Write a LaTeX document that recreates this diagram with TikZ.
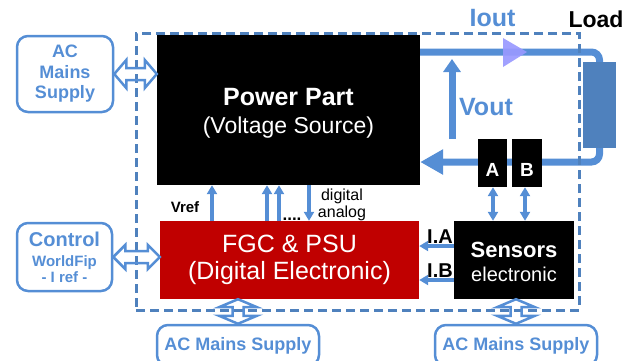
\documentclass[tikz,border=0pt]{standalone}
\usepackage{fontspec}
\setmainfont{Liberation Sans}
\usetikzlibrary{arrows.meta,calc}
\definecolor{lblue}{RGB}{85,142,213}
\definecolor{dblue}{RGB}{79,129,189}
\definecolor{fgcred}{RGB}{192,0,0}
\definecolor{lav}{RGB}{153,153,255}
\begin{document}
\begin{tikzpicture}[x=1pt,y=-1pt,
  blk/.style={draw=none, fill=black, text=white, inner sep=0pt, align=center},
  rbox/.style={draw=lblue, line width=2.5pt, rounded corners=11pt, text=lblue, inner sep=0pt, align=center},
  loopline/.style={draw=lblue, line width=7pt},
  thinarr/.style={draw=lblue, line width=3.5pt, -{Triangle[length=9pt,width=10pt]}},
  thindbl/.style={draw=lblue, line width=3.5pt, {Triangle[length=9pt,width=10pt]}-{Triangle[length=9pt,width=10pt]}},
  dbl/.style={draw=lblue, line width=2.5pt, line join=miter},
  lbl/.style={anchor=base, inner sep=0pt},
]
\useasboundingbox (0,0) rectangle (638,360);

% main blocks
\node[blk, minimum width=263pt, minimum height=150pt, font=\fontsize{23}{28}\selectfont] (pp) at (288.5,110)
  {\raisebox{-3pt}[\height][\depth]{\fontsize{25}{28}\selectfont\bfseries Power Part}\\\raisebox{-3pt}[\height][\depth]{(Voltage Source)}};
\node[blk, fill=fgcred, minimum width=259pt, minimum height=78pt, font=\fontsize{25}{27}\selectfont] (fgc) at (289.5,260)
  {FGC \& PSU\\(Digital Electronic)};
\node[blk, minimum width=120pt, minimum height=78pt, font=\fontsize{20}{24}\selectfont] (sen) at (514,260)
  {\raisebox{-2pt}[\height][\depth]{\fontsize{22}{24}\selectfont\bfseries Sensors}\\\raisebox{-2pt}[\height][\depth]{electronic}};
\node[draw=none, fill=dblue, minimum width=33pt, minimum height=86pt, inner sep=0pt] (load) at (599.5,105) {};

% outside boxes
\node[rbox, minimum width=96pt, minimum height=76pt, font=\fontsize{18}{20.5}\selectfont\bfseries] (ac1) at (65,74)
  {AC\\Mains\\Supply};
\node[rbox, minimum width=95pt, minimum height=68pt, font=\fontsize{15}{18}\selectfont\bfseries] (ctrl) at (64.5,257)
  {{\fontsize{20}{18}\selectfont Control}\\[2pt]WorldFip\\[-2pt]- I ref -};
\node[rbox, minimum width=162pt, minimum height=41pt, font=\fontsize{18}{20}\selectfont\bfseries] (ac2) at (238,345.5)
  {AC Mains Supply};
\node[rbox, minimum width=162pt, minimum height=41pt, font=\fontsize{18}{20}\selectfont\bfseries] (ac3) at (516,345.5)
  {AC Mains Supply};

% current loop
\coordinate (ltop) at (599.5,52);
\coordinate (lbot) at (599.5,162);
\draw[loopline, rounded corners=8pt] (pp.east |- ltop) -- (ltop) -- (load.north);
\draw[loopline, rounded corners=8pt, -{Triangle[length=23pt,width=24pt]}] (load.south) -- (lbot) -- (pp.east |- lbot);
\fill[lav, opacity=0.92] (503,38) -- (527,52) -- (503,67) -- cycle;
\coordinate (vbase) at (452,139);
\coordinate (vtip) at (452,59);
\draw[loopline, -{Triangle[length=13pt,width=17pt]}] (vbase) -- (vtip);

% sensor heads
\node[blk, minimum width=29pt, minimum height=48pt, font=\fontsize{19}{22}\selectfont\bfseries] (ba) at (492.5,163)
  {\raisebox{-7pt}[\height][0pt]{A}};
\node[blk, minimum width=30pt, minimum height=48pt, font=\fontsize{19}{22}\selectfont\bfseries] (bb) at (527,163)
  {\raisebox{-7pt}[\height][0pt]{B}};

% frame
\node[draw=dblue, line width=3pt, dash pattern=on 9pt off 5pt, minimum width=443pt, minimum height=277pt, inner sep=0pt] (frame) at (357.5,171.5) {};

% thin arrows
\coordinate (xa) at (212,0);
\coordinate (xb) at (267,0);
\coordinate (xc) at (279,0);
\coordinate (xd) at (309,0);
\coordinate (xe) at (493,0);
\coordinate (xf) at (525,0);
\coordinate (ya) at (0,246);
\coordinate (yb) at (0,280);
\draw[thinarr] (fgc.north -| xa) -- (pp.south -| xa);
\draw[thinarr] (fgc.north -| xb) -- (pp.south -| xb);
\draw[thinarr] (fgc.north -| xc) -- (pp.south -| xc);
\draw[thinarr] (pp.south -| xd) -- (fgc.north -| xd);
\draw[thindbl] (ba.south -| xe) -- (sen.north -| xe);
\draw[thindbl] (bb.south -| xf) -- (sen.north -| xf);
\draw[thinarr] (sen.west |- ya) -- (fgc.east |- ya);
\draw[thinarr] (sen.west |- yb) -- (fgc.east |- yb);

% hollow double arrows
\draw[dbl] (ac1.east) -- ++(12,-14) -- ++(0,8) -- ($(pp.west |- ac1.east)+(-12,-6)$) -- ++(0,-8)
  -- (pp.west |- ac1.east) -- ++(-12,14) -- ++(0,-8) -- ($(ac1.east)+(12,6)$) -- ++(0,8) -- cycle;
\draw[dbl] (ctrl.east) -- ++(12,-12) -- ++(0,6) -- ($(fgc.west |- ctrl.east)+(-12,-6)$) -- ++(0,-6)
  -- (fgc.west |- ctrl.east) -- ++(-12,12) -- ++(0,-6) -- ($(ctrl.east)+(12,6)$) -- ++(0,6) -- cycle;
\draw[dbl] (fgc.south -| ac2.north) -- ++(19,8) -- ++(-13.5,0) -- ($(ac2.north)+(5.5,-8)$) -- ++(13.5,0)
  -- (ac2.north) -- ++(-19,-8) -- ++(13.5,0) -- ($(fgc.south -| ac2.north)+(-5.5,8)$) -- ++(-13.5,0) -- cycle;
\draw[dbl] (sen.south -| ac3.north) -- ++(19,8) -- ++(-13.5,0) -- ($(ac3.north)+(5.5,-8)$) -- ++(13.5,0)
  -- (ac3.north) -- ++(-19,-8) -- ++(13.5,0) -- ($(sen.south -| ac3.north)+(-5.5,8)$) -- ++(-13.5,0) -- cycle;

% labels
\node[lbl, font=\fontsize{25}{25}\selectfont\bfseries, text=lblue] (iout) at (492.5,26) {Iout};
\node[lbl, font=\fontsize{23}{23}\selectfont\bfseries] (loadt) at (596,27) {Load};
\node[lbl, font=\fontsize{25}{25}\selectfont\bfseries, text=lblue] (vout) at (486,115) {Vout};
\node[lbl, font=\fontsize{15}{15}\selectfont\bfseries] (vref) at (185,212) {Vref};
\node[lbl, font=\fontsize{16}{16}\selectfont] (dig) at (342,200) {digital};
\node[lbl, font=\fontsize{16}{16}\selectfont] (ana) at (342,217) {analog};
\node[lbl, font=\fontsize{17}{17}\selectfont\bfseries] (dots) at (292,220) {....};
\node[lbl, font=\fontsize{20}{20}\selectfont\bfseries] (ia) at (440,243) {I.A};
\node[lbl, font=\fontsize{20}{20}\selectfont\bfseries] (ib) at (440,277) {I.B};
\end{tikzpicture}
\end{document}
